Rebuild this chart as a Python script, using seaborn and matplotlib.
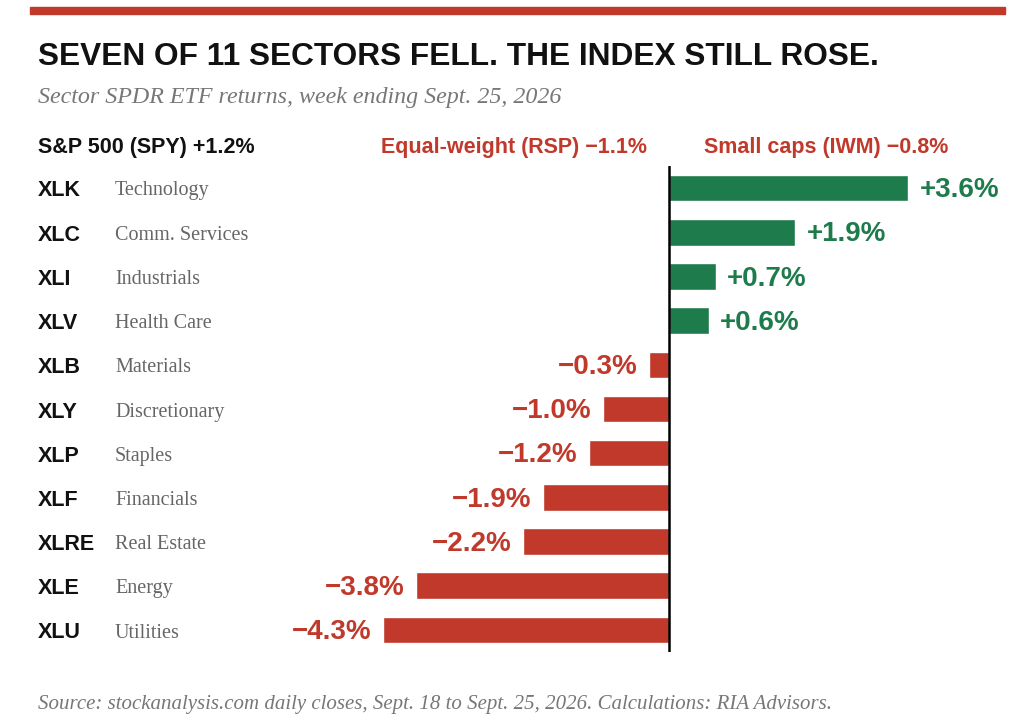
import matplotlib
matplotlib.use("Agg")
import matplotlib.pyplot as plt
import seaborn as sns
import pandas as pd
from matplotlib.patches import Rectangle

tickers = ["XLK", "XLC", "XLI", "XLV", "XLB", "XLY", "XLP", "XLF", "XLRE", "XLE", "XLU"]
sectors = ["Technology", "Comm. Services", "Industrials", "Health Care", "Materials",
           "Discretionary", "Staples", "Financials", "Real Estate", "Energy", "Utilities"]
returns = [3.6, 1.9, 0.7, 0.6, -0.3, -1.0, -1.2, -1.9, -2.2, -3.8, -4.3]

GREEN = "#1e7b4c"
RED = "#c0392b"

df = pd.DataFrame({"ticker": tickers, "sector": sectors, "ret": returns})
df["sign"] = ["up" if r > 0 else "down" for r in returns]

sns.set_theme(style="white")
plt.rcParams["font.family"] = ["Liberation Sans", "DejaVu Sans"]
W, H = 1024, 725
fig = plt.figure(figsize=(W / 100, H / 100), dpi=100)

def fx(px): return px / W
def fy(py): return 1 - py / H

# axes: 0 at x=669px, ~66.5 px per percentage point
ax_l, ax_r, ax_t, ax_b = 280, 1010, 166, 652
ax = fig.add_axes([fx(ax_l), fy(ax_b), fx(ax_r - ax_l), (ax_b - ax_t) / H])
sns.barplot(data=df, y="ticker", x="ret", hue="sign", palette={"up": GREEN, "down": RED},
            orient="h", width=0.6, dodge=False, legend=False, ax=ax, saturation=1)
ppu = 66.5
ax.set_xlim(-(669 - ax_l) / ppu, (ax_r - 669) / ppu)
ax.set_ylim(10.5, -0.5)
ax.axis("off")
ax.axvline(0, color="black", lw=1.8)

for i, r in enumerate(returns):
    txt = f"+{r:.1f}%" if r > 0 else f"\u2212{abs(r):.1f}%"
    off = 0.17 if r > 0 else -0.17
    ax.text(r + off, i + 0.05, txt, ha="left" if r > 0 else "right", va="center",
            fontsize=20, fontweight="bold", color=GREEN if r > 0 else RED)

# row labels
for i, (t, s) in enumerate(zip(tickers, sectors)):
    py = 191 + i * 44.2
    fig.text(fx(38), fy(py), t, fontsize=15.5, fontweight="bold", color="#111111", va="center")
    fig.text(fx(115), fy(py), s, fontsize=14.5, color="#666666", va="center",
             family="Liberation Serif")

# top rule
fig.patches.append(Rectangle((fx(30), fy(14)), fx(975), 7 / H, transform=fig.transFigure,
                             color=RED, zorder=5))
fig.text(fx(38), fy(57), "SEVEN OF 11 SECTORS FELL. THE INDEX STILL ROSE.",
         fontsize=22.8, fontweight="bold", color="#111111", va="center")
fig.text(fx(38), fy(97), "Sector SPDR ETF returns, week ending Sept. 25, 2026",
         fontsize=17.3, style="italic", color="#777777", va="center", family="Liberation Serif")
fig.text(fx(38), fy(147), "S&P 500 (SPY) +1.2%", fontsize=15.5, fontweight="bold",
         color="#111111", va="center")
fig.text(fx(647), fy(147), "Equal-weight (RSP) \u22121.1%", fontsize=15.5, fontweight="bold",
         color=RED, va="center", ha="right")
fig.text(fx(948), fy(147), "Small caps (IWM) \u22120.8%", fontsize=15.5, fontweight="bold",
         color=RED, va="center", ha="right")
fig.text(fx(38), fy(705), "Source: stockanalysis.com daily closes, Sept. 18 to Sept. 25, 2026. "
         "Calculations: RIA Advisors.", fontsize=15, style="italic", color="#777777",
         va="center", family="Liberation Serif")

fig.savefig("out.png", dpi=100, facecolor="white")
